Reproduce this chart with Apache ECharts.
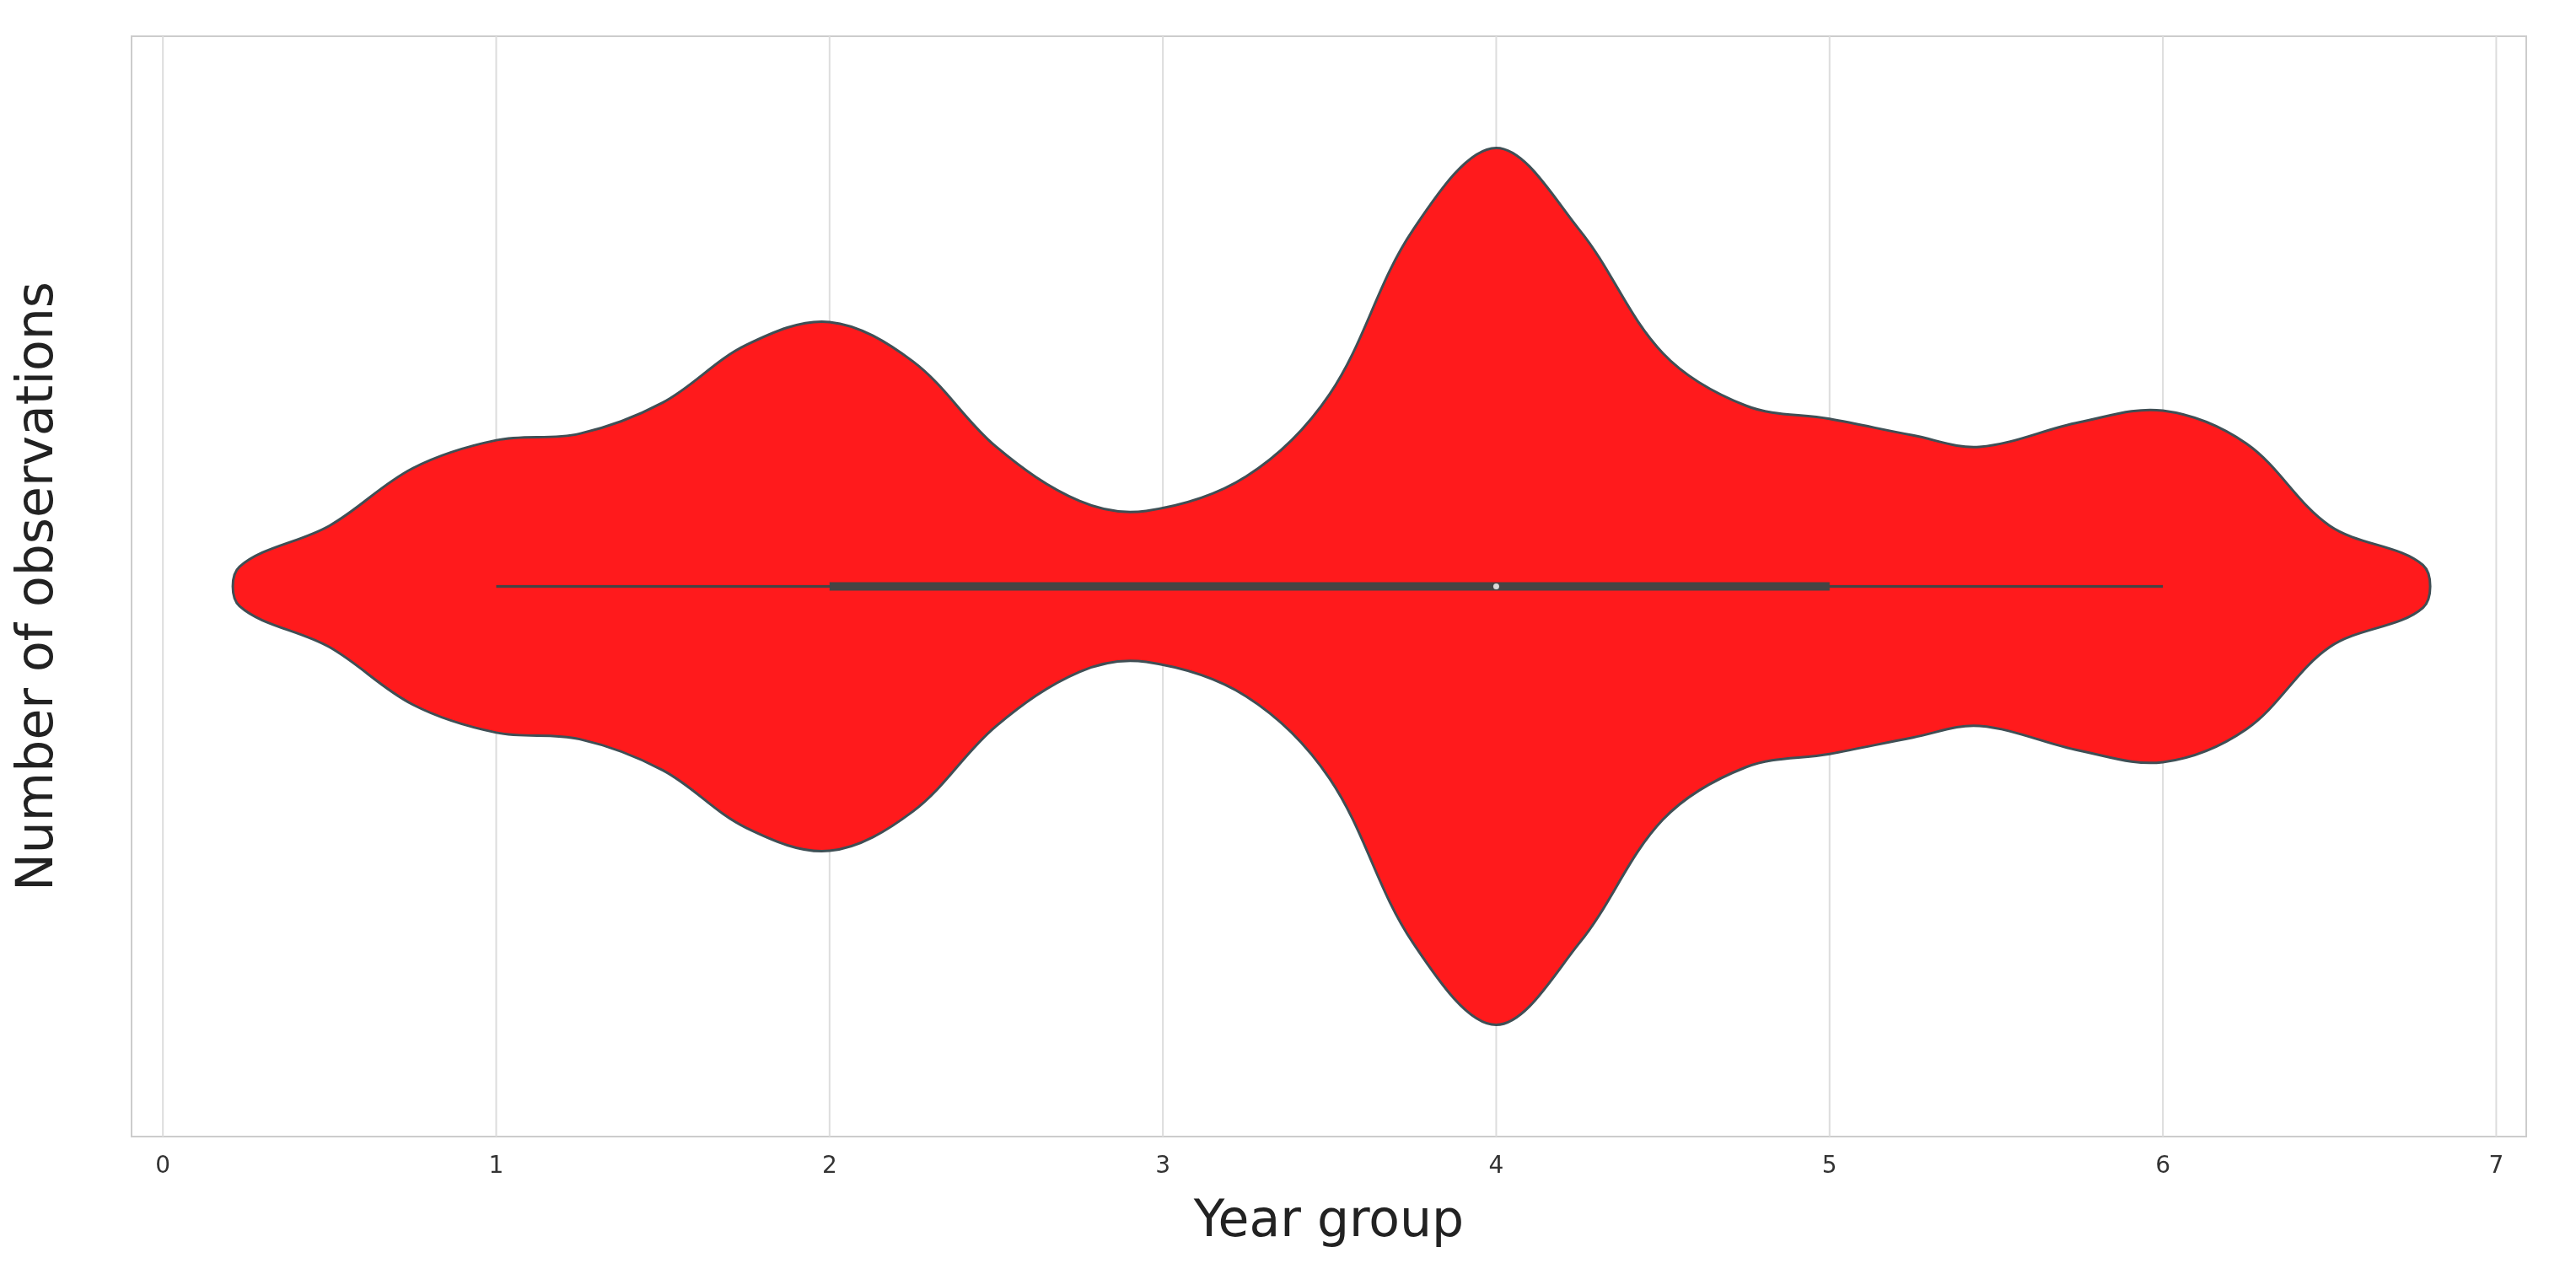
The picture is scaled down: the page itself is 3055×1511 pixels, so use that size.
<!DOCTYPE html>
<html><head><meta charset="utf-8">
<script src="https://cdn.jsdelivr.net/npm/echarts@6/dist/echarts.min.js"></script>
<style>html,body{margin:0;background:#fff}#c{width:3055px;height:1511px}</style>
</head><body><div id="c"></div>
<script>
// violin outline: x position and half width (density, arbitrary units)
var violinX = [0.23, 0.5, 0.75, 1.0, 1.25, 1.5, 1.75, 2.0, 2.25, 2.5, 2.75, 2.95, 3.25, 3.5, 3.75, 4.0, 4.25, 4.5, 4.75, 5.0, 5.25, 5.45, 5.75, 6.0, 6.25, 6.5, 6.78];
var violinW = [12, 37, 72, 89, 93, 112, 147, 161, 137, 85, 52, 46, 67, 117, 217, 267, 217, 142, 110, 102, 92, 85, 100, 107, 87, 37, 13];
var whisker = [1, 6];
var box = [2, 5];
var median = 4;
var xTicks = [0, 1, 2, 3, 4, 5, 6, 7];

var chart = echarts.init(document.getElementById('c'));
chart.setOption({
    backgroundColor: '#fff',
    animation: false,
    grid: {left: 156, right: 59, top: 43, bottom: 163, show: true, borderColor: '#cccccc', borderWidth: 2},
    xAxis: {
        type: 'value', min: -0.094, max: 7.09,
        name: 'Year group', nameLocation: 'middle', nameGap: 72,
        nameTextStyle: {fontSize: 60, color: '#222', fontFamily: 'DejaVu Sans'},
        axisLine: {show: false}, axisTick: {show: false},
        axisLabel: {
            fontSize: 28, color: '#333', margin: 22, fontFamily: 'DejaVu Sans',
            customValues: xTicks
        },
        splitLine: {show: false}
    },
    yAxis: {
        type: 'value', min: -335, max: 335,
        name: 'Number of observations', nameLocation: 'middle', nameGap: 80,
        nameTextStyle: {fontSize: 60, color: '#222', fontFamily: 'DejaVu Sans'},
        axisLine: {show: false}, axisTick: {show: false}, axisLabel: {show: false},
        splitLine: {show: false}
    },
    series: [{
        type: 'custom',
        silent: true,
        data: xTicks.slice(0),
        renderItem: function (params, api) {
            var a = api.coord([api.value(0), -335]);
            var b = api.coord([api.value(0), 335]);
            return {type: 'line', shape: {x1: a[0], y1: a[1], x2: b[0], y2: b[1]},
                style: {stroke: '#dddddd', lineWidth: 2}, z2: 0};
        },
        z: 1
    }, {
        type: 'custom',
        data: [0],
        z: 2,
        renderItem: function (params, api) {
            var pts = [];
            for (var i = 0; i < violinX.length; i++) pts.push(api.coord([violinX[i], violinW[i]]));
            for (var j = violinX.length - 1; j >= 0; j--) pts.push(api.coord([violinX[j], -violinW[j]]));
            return {type: 'polygon', shape: {points: pts, smooth: 0.35},
                style: {fill: '#ff1a1c', stroke: '#3f4f55', lineWidth: 3}};
        }
    }, {
        type: 'line', z: 3, symbol: 'none',
        data: [[whisker[0], 0], [whisker[1], 0]],
        lineStyle: {color: '#444', width: 3}
    }, {
        type: 'line', z: 4, symbol: 'none',
        data: [[box[0], 0], [box[1], 0]],
        lineStyle: {color: '#444', width: 10, cap: 'butt'}
    }, {
        type: 'scatter', z: 5, symbolSize: 7,
        data: [[median, 0]],
        itemStyle: {color: '#fff'}
    }]
});
</script></body></html>
